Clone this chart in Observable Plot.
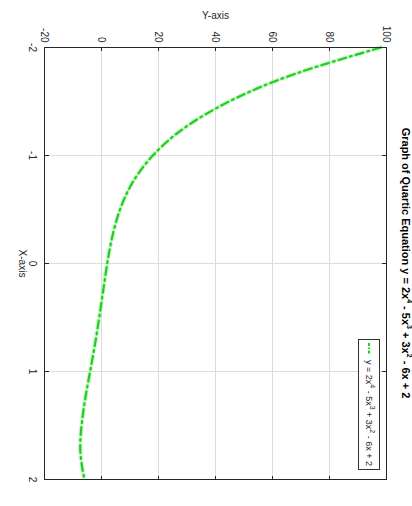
<!DOCTYPE html>
<html>
<head>
<meta charset="utf-8">
<script src="https://cdn.jsdelivr.net/npm/d3@7"></script>
<script src="https://cdn.jsdelivr.net/npm/@observablehq/plot@0.6"></script>
<style>
  html, body { margin: 0; padding: 0; background: #fff; }
  body { width: 412px; height: 506px; overflow: hidden; position: relative; }
  #figure {
    position: absolute; left: 0; top: 0; width: 506px; height: 412px;
    transform-origin: 0 0; transform: translate(412px, 0) rotate(90deg);
    font-family: "Liberation Sans", Arial, sans-serif; background: #fff;
  }
  #title {
    position: absolute; left: 47px; width: 432px; top: 0px; text-align: center;
    font-weight: bold; font-size: 11px; line-height: 12px; color: #000; white-space: nowrap;
  }
  #title sup, #legend sup { font-size: 7px; line-height: 0; }
  #legend {
    position: absolute; left: 339px; top: 32px; width: 131px; height: 22px;
    border: 1px solid #333; background: #fff; box-sizing: border-box;
    font-size: 9px; color: #262626; white-space: nowrap;
    display: flex; align-items: center;
  }
  #legend svg { margin-left: 3px; margin-right: 5px; flex: none; }
  #plot { position: absolute; left: 0; top: 0; }
</style>
</head>
<body>
<div id="figure">
  <div id="plot"></div>
  <div id="title"></div>
  <div id="legend"></div>
</div>
<script>
// Data
const xValues = [-2, -1.75, -1.5, -1.25, -1, -0.75, -0.5, -0.25, 0, 0.25, 0.5, 0.75, 1, 1.25, 1.5, 1.75, 2];
const yValues = [98, 67.3, 44.8, 28.8, 18, 10.9, 6.5, 3.8, 2, 0.6, -0.8, -2.3, -4, -5.7, -7, -7.4, -6];
const xTicks = [-2, -1, 0, 1, 2];
const yTicks = [-20, 0, 20, 40, 60, 80, 100];
const titleHTML = "Graph of Quartic Equation y = 2x<sup>4</sup> - 5x<sup>3</sup> + 3x<sup>2</sup> - 6x + 2";
const seriesLabelHTML = "y = 2x<sup>4</sup> - 5x<sup>3</sup> + 3x<sup>2</sup> - 6x + 2";
const xLabel = "X-axis";
const yLabel = "Y-axis";

const data = xValues.map((x, i) => ({x, y: yValues[i]}));
const lineColor = "#22cc22";
const dash = "8,4,2,4";

const chart = Plot.plot({
  width: 506,
  height: 412,
  marginLeft: 47,
  marginRight: 27,
  marginTop: 25,
  marginBottom: 45,
  style: {fontFamily: "'Liberation Sans', Arial, sans-serif", fontSize: "10px", color: "#262626", background: "white"},
  x: {domain: [-2, 2]},
  y: {domain: [-20, 100]},
  marks: [
    Plot.gridX(xTicks, {stroke: "#dcdcdc", strokeOpacity: 1}),
    Plot.gridY(yTicks, {stroke: "#dcdcdc", strokeOpacity: 1}),
    Plot.line(data, {x: "x", y: "y", stroke: "#8ff08f", strokeOpacity: 0.45, strokeWidth: 4.5, curve: "natural", strokeDasharray: dash}),
    Plot.line(data, {x: "x", y: "y", stroke: lineColor, strokeWidth: 2.2, curve: "natural", strokeDasharray: dash}),
    Plot.frame({stroke: "#262626"}),
    Plot.axisX(xTicks, {anchor: "bottom", tickSize: -4, tickPadding: 12, tickFormat: d => String(d), label: xLabel, labelArrow: "none", labelAnchor: "center", labelOffset: 26, fontSize: 10}),
    Plot.axisX(xTicks, {anchor: "top", tickSize: -4, tickFormat: () => "", label: null}),
    Plot.axisY(yTicks, {anchor: "left", tickSize: -4, tickPadding: 9, tickFormat: d => String(d), label: yLabel, labelArrow: "none", labelAnchor: "center", labelOffset: 36, fontSize: 10}),
    Plot.axisY(yTicks, {anchor: "right", tickSize: -4, tickFormat: () => "", label: null})
  ]
});
document.getElementById("plot").appendChild(chart);
document.getElementById("title").innerHTML = titleHTML;
const legend = document.getElementById("legend");
legend.innerHTML = `<svg width="12" height="6"><line x1="0" y1="3" x2="12" y2="3" stroke="${lineColor}" stroke-width="2.2" stroke-dasharray="3,1.5,1.5,1.5"/></svg><span>${seriesLabelHTML}</span>`;
</script>
</body>
</html>
